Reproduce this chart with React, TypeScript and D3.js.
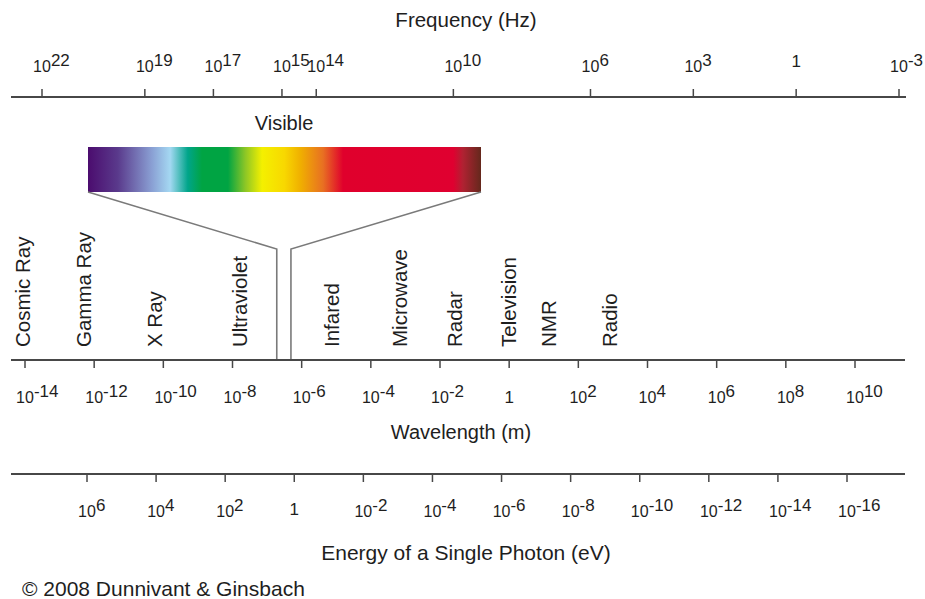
import React from "react";
import * as d3 from "d3";

const freqExponents = [22, 19, 17, 15, 14, 10, 6, 3, 0, -3];
const wavelengthExponents = [-14, -12, -10, -8, -6, -4, -2, 0, 2, 4, 6, 8, 10];
const energyExponents = [6, 4, 2, 0, -2, -4, -6, -8, -10, -12, -14, -16];

const bandLabels = ["Cosmic Ray", "Gamma Ray", "X Ray", "Ultraviolet", "Infared", "Microwave", "Radar", "Television", "NMR", "Radio"];
const bandWavelengthExp = [-14.05, -12.3, -10.25, -7.8, -5.12, -3.15, -1.57, -0.02, 1.15, 2.9];

const visibleRangeExp = [-6.72, -6.31];
const visibleStopOffsets = [0, 0.076, 0.163, 0.209, 0.254, 0.29, 0.356, 0.4, 0.443, 0.5, 0.54, 0.598, 0.649, 0.929, 0.954, 1];
const visibleStopColors = ["#4b0c6e", "#5a3a8c", "#8aa0d4", "#a4d8f2", "#00a58a", "#00a443", "#00a443", "#8cc626", "#f4f000", "#f8d800", "#f0b000", "#e87022", "#e0002c", "#e00030", "#b02232", "#64281c"];

const FONT = "'Liberation Sans', Arial, Helvetica, sans-serif";
const TEXT = "#1e1e1e";
const AXIS = "#474747";

function PowLabel({ x, y, exp, oneDy = 0 }: { x: number; y: number; exp: number; oneDy?: number }) {
  const base = 16;
  const sup = 17;
  if (exp === 0) {
    return (
      <text x={x} y={y + oneDy} textAnchor="middle" fontSize={17} fill={TEXT}>
        1
      </text>
    );
  }
  return (
    <text x={x - base * 0.556} y={y} fontSize={base} fill={TEXT}>
      10
      <tspan fontSize={sup} dy={-6}>
        {exp < 0 ? "-" + Math.abs(exp) : String(exp)}
      </tspan>
    </text>
  );
}

export default function App() {
  const W = 925;
  const H = 599;

  const xFreq = d3.scaleLog().domain([1e22, 1e-3]).range([42, 899]);
  const xWave = d3.scaleLog().domain([1e-14, 1e10]).range([25, 855]);
  const xEnergy = d3.scaleLog().domain([1e6, 1e-16]).range([87, 847]);

  const yFreqAxis = 97;
  const yWaveAxis = 360;
  const yEnergyAxis = 474;

  const bar = { x0: 88, x1: 481, y0: 147, y1: 192 };
  const visL = xWave(Math.pow(10, visibleRangeExp[0]));
  const visR = xWave(Math.pow(10, visibleRangeExp[1]));
  const kneeY = 249;

  const stops = visibleStopOffsets.map((o, i) => ({ o, c: visibleStopColors[i] }));

  return (
    <>
      <style>{`body{margin:0;background:#fff}`}</style>
      <svg width={W} height={H} style={{ display: "block", fontFamily: FONT }}>
        <defs>
          <linearGradient id="visGrad" x1="0" x2="1" y1="0" y2="0">
            {stops.map((s, i) => (
              <stop key={i} offset={s.o} stopColor={s.c} />
            ))}
          </linearGradient>
        </defs>
        <rect width={W} height={H} fill="#fff" />

        {/* Frequency axis */}
        <text x={466} y={27} textAnchor="middle" fontSize={20.5} fill={TEXT}>
          Frequency (Hz)
        </text>
        <line x1={11} x2={906} y1={yFreqAxis} y2={yFreqAxis} stroke={AXIS} strokeWidth={2} />
        {freqExponents.map((e) => {
          const x = xFreq(Math.pow(10, e));
          return (
            <g key={"f" + e}>
              <line x1={x} x2={x} y1={yFreqAxis - 8} y2={yFreqAxis} stroke={AXIS} strokeWidth={1.5} />
              <PowLabel x={x} y={72} exp={e} oneDy={-5} />
            </g>
          );
        })}

        {/* Visible spectrum */}
        <text x={284} y={130} textAnchor="middle" fontSize={20} fill={TEXT}>
          Visible
        </text>
        <rect x={bar.x0} y={bar.y0} width={bar.x1 - bar.x0} height={bar.y1 - bar.y0} fill="url(#visGrad)" />
        <polyline
          points={`${bar.x0},${bar.y1} ${visL},${kneeY} ${visL},${yWaveAxis}`}
          fill="none"
          stroke="#7a7a7a"
          strokeWidth={1.6}
        />
        <polyline
          points={`${bar.x1},${bar.y1} ${visR},${kneeY} ${visR},${yWaveAxis}`}
          fill="none"
          stroke="#7a7a7a"
          strokeWidth={1.6}
        />

        {/* Band labels */}
        {bandLabels.map((lab, i) => {
          const x = xWave(Math.pow(10, bandWavelengthExp[i]));
          return (
            <text
              key={lab}
              transform={`translate(${x},347) rotate(-90)`}
              dy="0.35em"
              fontSize={20.5}
              fill={TEXT}
            >
              {lab}
            </text>
          );
        })}

        {/* Wavelength axis */}
        <line x1={11} x2={905} y1={yWaveAxis} y2={yWaveAxis} stroke={AXIS} strokeWidth={2} />
        {wavelengthExponents.map((e) => {
          const x = xWave(Math.pow(10, e));
          return (
            <g key={"w" + e}>
              <line x1={x} x2={x} y1={yWaveAxis} y2={yWaveAxis + 8} stroke={AXIS} strokeWidth={1.5} />
              <PowLabel x={x} y={403} exp={e} />
            </g>
          );
        })}
        <text x={461} y={439} textAnchor="middle" fontSize={20} fill={TEXT}>
          Wavelength (m)
        </text>

        {/* Energy axis */}
        <line x1={11} x2={905} y1={yEnergyAxis} y2={yEnergyAxis} stroke={AXIS} strokeWidth={2} />
        {energyExponents.map((e) => {
          const x = xEnergy(Math.pow(10, e));
          return (
            <g key={"e" + e}>
              <line x1={x} x2={x} y1={yEnergyAxis} y2={yEnergyAxis + 8} stroke={AXIS} strokeWidth={1.5} />
              <PowLabel x={x} y={517} exp={e} oneDy={-2} />
            </g>
          );
        })}
        <text x={466} y={560} textAnchor="middle" fontSize={21} fill={TEXT}>
          Energy of a Single Photon (eV)
        </text>

        <text x={22} y={596} fontSize={21} fill={TEXT}>
          © 2008 Dunnivant &amp; Ginsbach
        </text>
      </svg>
    </>
  );
}
